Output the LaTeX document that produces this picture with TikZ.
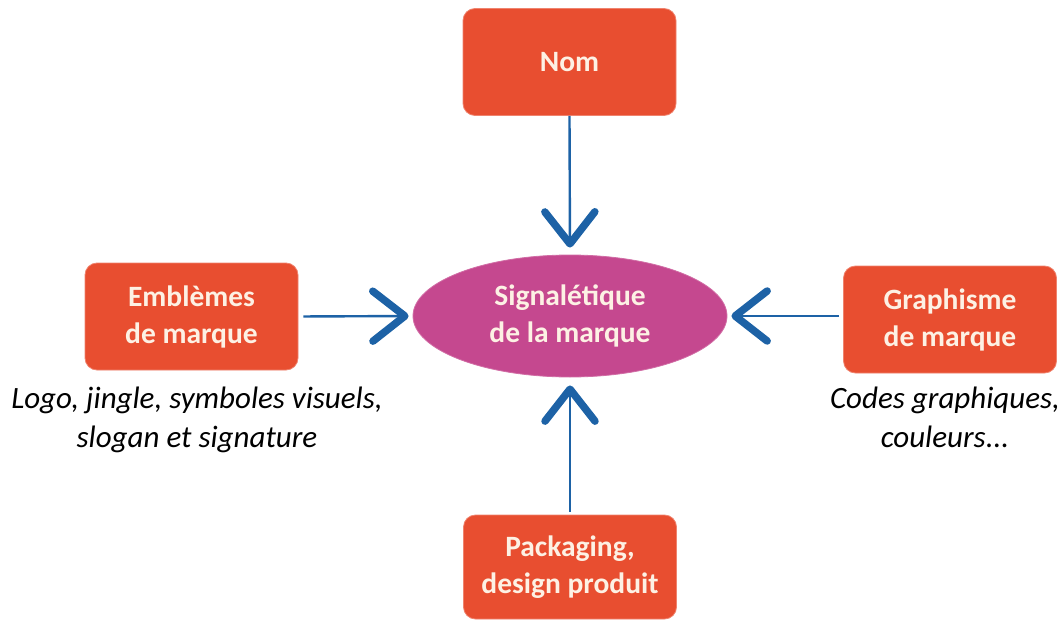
\documentclass[tikz,border=0pt]{standalone}
\usepackage{fontspec}
\setmainfont{Carlito}
\usetikzlibrary{arrows.meta,shapes.geometric}
\definecolor{boxred}{HTML}{E84E30}
\definecolor{ellmag}{HTML}{C5488F}
\definecolor{txtcream}{HTML}{FDF1E4}
\definecolor{arrblue}{HTML}{1D62A6}
\tikzset{
  redbox/.style={rectangle, rounded corners=12pt, fill=boxred, draw=boxred!70!white, line width=0.8pt,
    minimum width=213pt, minimum height=107pt, align=center, text=txtcream,
    font=\fontsize{29.5}{37}\selectfont\bfseries},
  centre/.style={ellipse, fill=ellmag, draw=ellmag!80!white, line width=0.8pt, minimum width=314pt, minimum height=122pt,
    inner sep=0pt, align=center, text=txtcream, font=\fontsize{29.5}{37}\selectfont\bfseries},
  note/.style={align=center, text=black, font=\fontsize{31}{39}\selectfont\itshape},
  flow/.style={draw=arrblue, line width=2.4pt,
    -{Straight Barb[length=32pt, width=50pt, line width=7.5pt, round]}}
}
\begin{document}
\begin{tikzpicture}[x=1pt,y=-1pt]
\useasboundingbox (0,0) rectangle (1061,621);
\node[redbox] (nom) at (569.5,62) {Nom};
\node[redbox] (emb) at (191.5,316.5) {Emblèmes\\de marque};
\node[redbox] (gra) at (950,319.5) {Graphisme\\de marque};
\node[redbox, minimum height=104pt] (pack) at (570,567) {Packaging,\\design produit};
\node[centre] (sig) at (570,316) {Signalétique\\de la marque};
\node[note, anchor=north] (embnote) at (197,383) {Logo, jingle, symboles visuels,\\slogan et signature};
\node[note, anchor=north] (granote) at (945,383) {Codes graphiques,\\couleurs...};
\draw[flow, shorten >=7pt] (nom.south) -- (sig.north);
\draw[flow, shorten <=5pt, shorten >=4pt] (emb.east) -- (sig.west);
\draw[flow, shorten <=4pt, shorten >=4pt] (gra.west |- sig.east) -- (sig.east);
\draw[flow, shorten <=3pt, shorten >=8pt] (pack.north) -- (sig.south);
\end{tikzpicture}
\end{document}
